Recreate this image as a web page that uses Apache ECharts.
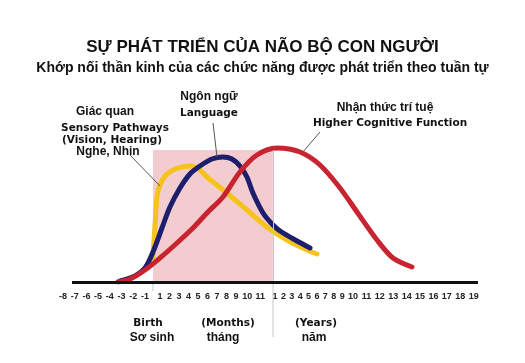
<!DOCTYPE html>
<html><head><meta charset="utf-8">
<script src="https://cdn.jsdelivr.net/npm/echarts@6/dist/echarts.min.js"></script>
<style>html,body{margin:0;padding:0;background:#fff}#c{width:525px;height:363px}</style>
</head><body><div id="c"></div>
<script>
// Tick labels, in three groups: months before birth, months of first year, years
const prenatalLabels = ['-8','-7','-6','-5','-4','-3','-2','-1'];
const monthLabels = ['1','2','3','4','5','6','7','8','9','10','11'];
const yearLabels = ['1','2','3','4','5','6','7','8','9','10','11','12','13','14','15','16','17','18','19'];

// Curves: [position along the axis, relative development level]
const sensory = [[8.10,24],[8.30,60],[8.46,85],[8.73,97],[9.27,107],[10.08,113],[11.43,116],
  [12.33,112],[12.96,105],[14.76,89],[16.56,72],[18.37,55],[20.17,42],[21.97,32],[22.87,28]];
const language = [[5.13,1],[6.48,6],[7.38,14],[8.10,30],[8.91,54],[9.63,75],[10.53,94],[11.43,108],
  [12.33,116],[13.41,123],[14.40,125],[15.21,123],[15.93,116],[16.56,105],[17.10,89],[18.01,69],
  [18.82,58],[19.54,51],[21.07,41],[22.24,34]];
const cognitive = [[4.95,0],[6.03,3],[7.38,12],[8.73,24],[10.26,39],[11.70,54],[13.05,70],[14.40,85],
  [15.93,110],[17.46,127],[19.27,134],[21.34,130],[23.14,117],[24.94,94],[26.47,70],[28.27,42],
  [29.71,24],[31.42,15]];

const firstYear = [8.1, 18.9];   // span of the first year on the axis
const firstYearTop = 132;

// ---- layout: labels are typeset like a line of text (character width + gap per group)
const GRID_LEFT = 63, UNIT = 11.108;
function layoutGroup(labels, startPx, charW, gap){
  const out = []; let x = startPx, prevW = null;
  labels.forEach(l => {
    const w = l.length * charW;
    if (prevW !== null) x += prevW/2 + gap + w/2;
    out.push({label:l, px:x}); prevW = w;
  });
  return out;
}
const placed = [].concat(
  layoutGroup(prenatalLabels, 63, 4.2, 3.3),
  layoutGroup(monthLabels, 160, 3.5, 6),
  layoutGroup(yearLabels, 275, 5, 3.4)
).map(p => ({label:p.label, v:+((p.px - GRID_LEFT)/UNIT).toFixed(4)}));
const labelByValue = new Map(placed.map(p => [p.v.toFixed(4), p.label]));

const chart = echarts.init(document.getElementById('c'), null, {renderer:'canvas'});
const bold = 'bold';
function line(name, data, color){
  return {type:'line', name, data, smooth:0.3, showSymbol:false, symbol:'none', z:3,
    lineStyle:{color, width:5, cap:'round', join:'round'}, animation:false};
}
const grey = {color:'#c8c8c8', width:1, type:'solid'};
chart.setOption({
  animation:false,
  title:[
    {text:'SỰ PHÁT TRIỂN CỦA NÃO BỘ CON NGƯỜI', left:'center', top:34,
     textStyle:{fontFamily:'Liberation Sans', fontSize:17, fontWeight:bold, color:'#111'}},
    {text:'Khớp nối thần kinh của các chức năng được phát triển theo tuần tự', left:'center', top:56,
     textStyle:{fontFamily:'Liberation Sans', fontSize:14, fontWeight:bold, color:'#111'}}
  ],
  grid:{left:GRID_LEFT, right:46.6, top:100, bottom:81},
  xAxis:{type:'value', min:0, max:37.4,
    axisLine:{show:false}, axisTick:{show:false}, splitLine:{show:false},
    axisLabel:{margin:10, fontFamily:'Liberation Sans', fontWeight:bold, fontSize:9, color:'#222',
      customValues: placed.map(p => p.v), hideOverlap:false,
      formatter:v => labelByValue.get((+v).toFixed(4)) || ''}},
  yAxis:{type:'value', min:0, max:182, show:false, splitLine:{show:false}},
  series:[
    {type:'line', data:[], z:1, silent:true,
     markArea:{silent:true, itemStyle:{color:'#f3ccd0'},
       data:[[{coord:[firstYear[0],0]},{coord:[firstYear[1],firstYearTop]}]]},
     markLine:{silent:true, symbol:'none', label:{show:false}, animation:false,
       data:[
         [{coord:[firstYear[1],firstYearTop], lineStyle:grey},{coord:[firstYear[1],0]}]
       ]}},
    line('Sensory', sensory, '#f6c21c'),
    line('Language', language, '#1d1e6c'),
    line('Cognitive', cognitive, '#c7242f'),
    {type:'line', data:[], z:5, silent:true,
     markLine:{silent:true, symbol:'none', label:{show:false}, animation:false,
       data:[[{coord:[0.81,0], lineStyle:{color:'#111', width:3, type:'solid'}},{coord:[37.36,0]}]]}}
  ],
  graphic:[
    {type:'line', shape:{x1:273,y1:283,x2:273,y2:337}, style:{stroke:'#c8c8c8', lineWidth:1}, z:1},
    {type:'line', shape:{x1:153,y1:283,x2:153,y2:291}, style:{stroke:'#c8c8c8', lineWidth:1}, z:1},
    {type:'line', shape:{x1:130,y1:155,x2:160,y2:186}, style:{stroke:'#555', lineWidth:1}, z:10},
    {type:'line', shape:{x1:213,y1:123,x2:217,y2:157}, style:{stroke:'#555', lineWidth:1}, z:10},
    {type:'line', shape:{x1:320,y1:132,x2:302,y2:153}, style:{stroke:'#555', lineWidth:1}, z:10},
    {type:'text', x:105, y:112, style:{text:'Giác quan', fill:'#111', font:'bold 12px "Liberation Sans"', align:'center', verticalAlign:'middle'}},
    {type:'text', x:115, y:128, style:{text:'Sensory Pathways', fill:'#111', font:'bold 10.5px "DejaVu Sans"', align:'center', verticalAlign:'middle'}},
    {type:'text', x:112, y:140, style:{text:'(Vision, Hearing)', fill:'#111', font:'bold 10.5px "DejaVu Sans"', align:'center', verticalAlign:'middle'}},
    {type:'text', x:108, y:152, style:{text:'Nghe, Nhin', fill:'#111', font:'bold 12px "Liberation Sans"', align:'center', verticalAlign:'middle'}},
    {type:'text', x:209, y:97, style:{text:'Ngôn ngữ', fill:'#111', font:'bold 12px "Liberation Sans"', align:'center', verticalAlign:'middle'}},
    {type:'text', x:209, y:113, style:{text:'Language', fill:'#111', font:'bold 10.5px "DejaVu Sans"', align:'center', verticalAlign:'middle'}},
    {type:'text', x:385, y:108, style:{text:'Nhận thức trí tuệ', fill:'#111', font:'bold 12px "Liberation Sans"', align:'center', verticalAlign:'middle'}},
    {type:'text', x:390, y:123, style:{text:'Higher Cognitive Function', fill:'#111', font:'bold 10.5px "DejaVu Sans"', align:'center', verticalAlign:'middle'}},
    {type:'text', x:216, y:257, style:{text:'NĂM ĐẦU ĐỜI', fill:'#3a2b2b', font:'bold 10px "Liberation Sans"', align:'center', verticalAlign:'middle'}},
    {type:'text', x:213, y:272, style:{text:'FIRST YEAR', fill:'#b3323a', font:'bold 12px "DejaVu Sans"', align:'center', verticalAlign:'middle'}},
    {type:'text', x:148, y:323, style:{text:'Birth', fill:'#111', font:'bold 10.5px "DejaVu Sans"', align:'center', verticalAlign:'middle'}},
    {type:'text', x:152, y:338, style:{text:'Sơ sinh', fill:'#111', font:'bold 12px "Liberation Sans"', align:'center', verticalAlign:'middle'}},
    {type:'text', x:228, y:323, style:{text:'(Months)', fill:'#111', font:'bold 10.5px "DejaVu Sans"', align:'center', verticalAlign:'middle'}},
    {type:'text', x:223, y:338, style:{text:'tháng', fill:'#111', font:'bold 12px "Liberation Sans"', align:'center', verticalAlign:'middle'}},
    {type:'text', x:316, y:323, style:{text:'(Years)', fill:'#111', font:'bold 10.5px "DejaVu Sans"', align:'center', verticalAlign:'middle'}},
    {type:'text', x:314, y:338, style:{text:'năm', fill:'#111', font:'bold 12px "Liberation Sans"', align:'center', verticalAlign:'middle'}}
  ]
});
</script></body></html>
